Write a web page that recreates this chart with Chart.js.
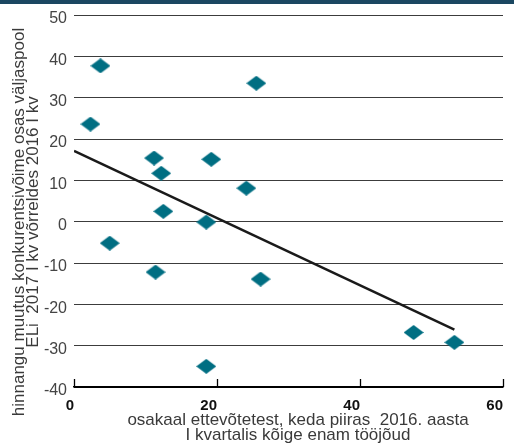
<!DOCTYPE html>
<html>
<head>
<meta charset="utf-8">
<script src="https://cdn.jsdelivr.net/npm/chart.js@4.4.0/dist/chart.umd.min.js"></script>
<style>
html,body{margin:0;padding:0;background:#fff;overflow:hidden;}
#wrap{position:relative;width:514px;height:445px;}
#bar{position:absolute;left:0;top:0;width:514px;height:4px;background:#1b4761;}
canvas{position:absolute;left:0;top:0;}
</style>
</head>
<body>
<div id="wrap"><canvas id="c" width="514" height="445"></canvas><div id="bar"></div></div>
<script>
// Data
const shareX = [3.7, 25.5, 2.3, 11.2, 19.2, 12.2, 24.1, 12.5, 18.5, 5.0, 11.4, 26.1, 47.5, 53.2, 18.5];
const changeY = [37.7, 33.5, 23.6, 15.4, 15.1, 11.7, 8.1, 2.5, -0.1, -5.2, -12.2, -13.9, -26.8, -29.2, -35.0];
const trendX = [0, 53.2];
const trendY = [17.1, -26.1];
const xTicks = [0, 20, 40, 60];
const yTicks = [50, 40, 30, 20, 10, 0, -10, -20, -30, -40];
const yTitle = ['hinnangu muutus konkurentsivõime osas väljaspool', 'ELi  2017 I kv võrreldes 2016 I kv'];
const xTitle = ['osakaal ettevõtetest, keda piiras  2016. aasta', 'I kvartalis kõige enam tööjõud'];

const TEAL = '#006e82';
const FONT = "'Liberation Sans', Arial, sans-serif";

// diamond marker (wider than tall, as in the reference)
function diamond(w, h, color) {
  const c = document.createElement('canvas');
  c.width = w; c.height = h;
  const g = c.getContext('2d');
  g.fillStyle = color;
  g.beginPath();
  g.moveTo(w / 2, 0); g.lineTo(w, h / 2); g.lineTo(w / 2, h); g.lineTo(0, h / 2);
  g.closePath(); g.fill();
  return c;
}
const marker = diamond(20, 15, TEAL);

const points = shareX.map((x, i) => ({x: x, y: changeY[i]}));
const trend = trendX.map((x, i) => ({x: x, y: trendY[i]}));

const zeroPad = () => ({left: 0, right: 0, top: 0, bottom: 0});

const extras = {
  id: 'extras',
  afterDraw(chart) {
    const ctx = chart.ctx;
    const xs = chart.scales.x;
    const area = chart.chartArea;
    ctx.save();
    // upward tick marks on x axis
    ctx.strokeStyle = '#000';
    ctx.lineWidth = 1.3;
    xTicks.forEach(v => {
      const px = Math.round(xs.getPixelForValue(v)) + 0.5;
      ctx.beginPath();
      ctx.moveTo(px, area.bottom);
      ctx.lineTo(px, area.bottom - 8);
      ctx.stroke();
    });
    // axis titles
    ctx.fillStyle = '#3a3a3a';
    ctx.font = '17px ' + FONT;
    ctx.textAlign = 'center';
    ctx.textBaseline = 'alphabetic';
    ctx.fillText(xTitle[0], 298, 425);
    ctx.fillText(xTitle[1], 298, 440);
    ctx.translate(0, 222);
    ctx.rotate(-Math.PI / 2);
    ctx.fillText(yTitle[0], 0, 24);
    ctx.fillText(yTitle[1], 0, 38);
    ctx.restore();
  }
};

new Chart(document.getElementById('c'), {
  type: 'scatter',
  data: {
    datasets: [
      {
        type: 'line',
        data: trend,
        borderColor: '#1a1a1a',
        borderWidth: 2.5,
        pointRadius: 0,
        fill: false,
        order: 0
      },
      {
        data: points,
        pointStyle: marker,
        backgroundColor: TEAL,
        borderColor: TEAL,
        pointRadius: 10,
        order: 1
      }
    ]
  },
  options: {
    responsive: false,
    animation: false,
    devicePixelRatio: 1,
    layout: {padding: {left: 0, right: 5, top: 15, bottom: 0}},
    plugins: {legend: {display: false}, tooltip: {enabled: false}},
    scales: {
      x: {
        type: 'linear',
        min: 0, max: 60,
        afterBuildTicks: s => { s.ticks = xTicks.map(v => ({value: v})); },
        afterFit: s => { s.height = 58; s.paddingLeft = 0; s.paddingRight = 0; s.getPadding = zeroPad; },
        grid: {display: true, drawOnChartArea: false, drawTicks: false},
        border: {display: true, color: '#000', width: 1.5},
        ticks: {
          align: 'end',
          padding: 10,
          color: '#111',
          font: {family: FONT, size: 15, weight: 'bold'}
        }
      },
      y: {
        type: 'linear',
        min: -40, max: 50,
        afterBuildTicks: s => { s.ticks = yTicks.map(v => ({value: v})); },
        afterFit: s => { s.width = 74; s.paddingTop = 0; s.paddingBottom = 0; s.getPadding = zeroPad; },
        grid: {
          drawTicks: false,
          color: ctx => (ctx.tick && ctx.tick.value === -40) ? '#000' : '#3c3c3c',
          lineWidth: 1
        },
        border: {display: false},
        ticks: {
          padding: 7,
          color: '#444',
          font: {family: FONT, size: 16, lineHeight: 0.5},
          callback: v => ['', String(v)]
        }
      }
    }
  },
  plugins: [extras]
});
</script>
</body>
</html>
